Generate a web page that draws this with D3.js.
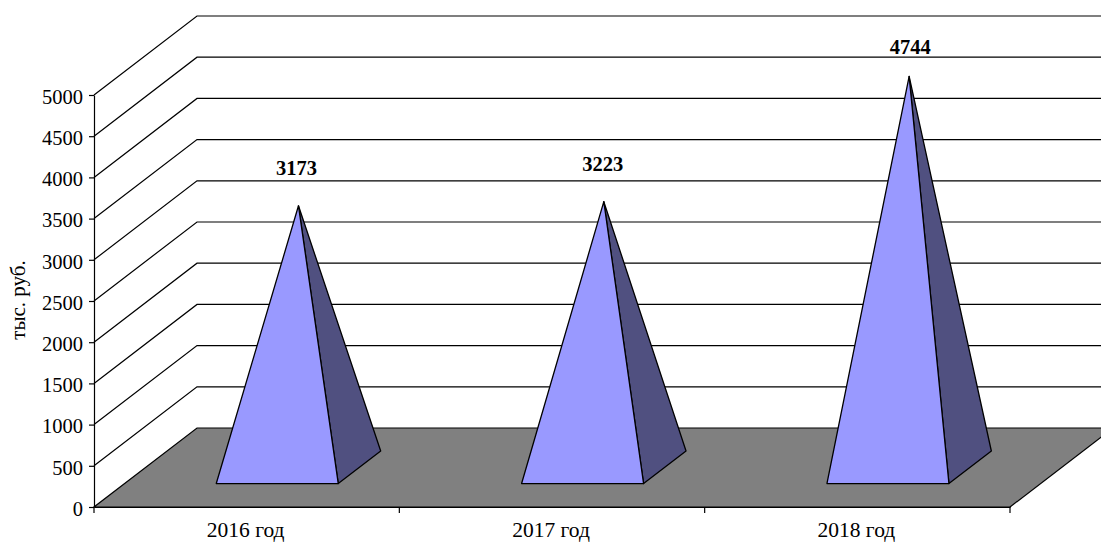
<!DOCTYPE html>
<html>
<head>
<meta charset="utf-8">
<script src="https://cdn.jsdelivr.net/npm/d3@7"></script>
<style>
html, body { margin: 0; padding: 0; background: #fff; overflow: hidden; }
svg { display: block; }
text { font-family: "Liberation Serif", serif; fill: #000; }
.axis path, .axis line { stroke: #000; stroke-width: 1.2; }
.axis text { font-family: "Liberation Serif", serif; font-size: 20.5px; fill: #000; }
.x-axis text { font-size: 21.5px; }
.grid-line { stroke: #000; stroke-width: 1.2; fill: none; }
.face { stroke: #000; stroke-width: 1.3; stroke-linejoin: round; }
.value-label { font-size: 20.5px; font-weight: bold; text-anchor: middle; }
</style>
</head>
<body>
<script>
var categories = ["2016 год", "2017 год", "2018 год"];
var values = [3173, 3223, 4744];
var yTickValues = [0, 500, 1000, 1500, 2000, 2500, 3000, 3500, 4000, 4500, 5000];
var yTitle = "тыс. руб.";

var width = 1101, height = 542;
var margin = { left: 94, right: 91, top: 95, bottom: 35 };

// offset of the back wall against the front axis plane
var depth = { x: 103, y: -79 };
var pyramidDepth = { near: 0.297, mid: 0.503, far: 0.709 };
var halfWidth = 61;

// the labels do not sit at one fixed distance from the apex
var labelShift = [{ dx: -2, dy: -31 }, { dx: -1, dy: -31 }, { dx: 1, dy: -22 }];

var svg = d3.select("body").append("svg")
	.attr("width", width)
	.attr("height", height);

var x = d3.scaleBand()
	.domain(categories)
	.range([margin.left, width - margin.right]);

var y = d3.scaleLinear()
	.domain([0, 5000])
	.range([height - margin.bottom, margin.top]);

// project a point of the chart box into the picture
function project(px, value, d) {
	return [px + depth.x * d, y(value) + depth.y * d];
}

var line = d3.line();

// walls: one line for every tick, running along the side and the back
svg.append("g").selectAll("path")
	.data(yTickValues.filter(d => d > 0))
	.enter().append("path")
	.attr("class", "grid-line")
	.attr("d", d => line([
		project(x.range()[0], d, 0),
		project(x.range()[0], d, 1),
		project(x.range()[1], d, 1)
	]));

// floor
svg.append("path")
	.attr("d", line([
		project(x.range()[0], 0, 0),
		project(x.range()[0], 0, 1),
		project(x.range()[1], 0, 1),
		project(x.range()[1], 0, 0)
	]) + "Z")
	.attr("fill", "#808080")
	.attr("stroke", "none");

svg.append("path")
	.attr("class", "grid-line")
	.attr("d", line([
		project(x.range()[1], 0, 0),
		project(x.range()[0], 0, 0),
		project(x.range()[0], 0, 1),
		project(x.range()[1], 0, 1)
	]));

svg.append("path")
	.attr("class", "grid-line")
	.attr("d", line([
		project(x.range()[1], 0, 0),
		project(x.range()[1], 0, 1)
	]));

// pyramids
var pyramid = svg.append("g").selectAll("g")
	.data(categories.map((c, i) => ({ category: c, value: values[i] })))
	.enter().append("g");

function centre(d) { return x(d.category) + x.bandwidth() / 2; }
function apex(d) { return project(centre(d), d.value, pyramidDepth.mid); }

pyramid.append("path")
	.attr("class", "face")
	.attr("fill", "#505080")
	.attr("d", d => line([
		apex(d),
		project(centre(d) + halfWidth, 0, pyramidDepth.near),
		project(centre(d) + halfWidth, 0, pyramidDepth.far)
	]) + "Z");

pyramid.append("path")
	.attr("class", "face")
	.attr("fill", "#9999ff")
	.attr("d", d => line([
		apex(d),
		project(centre(d) - halfWidth, 0, pyramidDepth.near),
		project(centre(d) + halfWidth, 0, pyramidDepth.near)
	]) + "Z");

pyramid.append("text")
	.attr("class", "value-label")
	.attr("x", (d, i) => apex(d)[0] + labelShift[i].dx)
	.attr("y", (d, i) => apex(d)[1] + labelShift[i].dy)
	.text(d => d.value);

// axes
var yAxis = svg.append("g")
	.attr("class", "axis")
	.attr("transform", "translate(" + margin.left + ",0)")
	.call(d3.axisLeft(y).tickValues(yTickValues).tickFormat(d3.format("d")).tickSize(5).tickPadding(6).tickSizeOuter(0));

yAxis.selectAll("text").attr("dy", "0.4em");

var xAxis = svg.append("g")
	.attr("class", "axis x-axis")
	.attr("transform", "translate(0," + y(0) + ")")
	.call(d3.axisBottom(x).tickSize(0).tickPadding(15));

xAxis.selectAll("text").attr("dx", -1);

xAxis.selectAll(".edge")
	.data(d3.range(categories.length + 1))
	.enter().append("line")
	.attr("class", "edge")
	.attr("x1", i => x.range()[0] + i * x.bandwidth())
	.attr("x2", i => x.range()[0] + i * x.bandwidth())
	.attr("y1", 0)
	.attr("y2", 6);

svg.append("text")
	.attr("transform", "translate(25,300) rotate(-90)")
	.attr("text-anchor", "middle")
	.style("font-size", "21px")
	.text(yTitle);
</script>
</body>
</html>
